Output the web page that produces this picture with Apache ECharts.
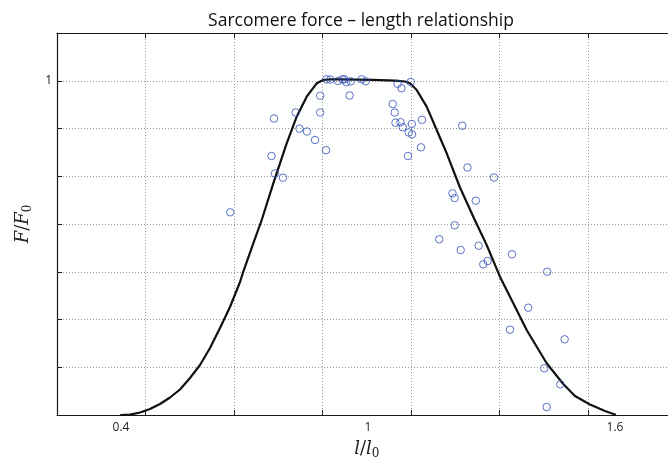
<!DOCTYPE html>
<html>
<head>
<meta charset="utf-8">
<script src="https://cdn.jsdelivr.net/npm/echarts@6/dist/echarts.min.js"></script>
<style>
html,body{margin:0;padding:0;background:#fff;}
#chart{width:668px;height:457px;}
</style>
</head>
<body>
<div id="chart"></div>
<script>
// Title and axis texts
var titleText = 'Sarcomere force \u2013 length relationship';
var xTickLabels = [0.4, 1, 1.6];
var yTickLabels = [1];

// Measured data points (l/l0, F/F0)
var dataX = [0.6655,0.7656,0.7717,0.7741,0.7935,0.8244,0.8336,0.8518,0.8713,0.8839,
             0.8839,0.8980,0.8992,0.9082,0.9271,0.9380,0.9429,0.9473,0.9554,0.9580,
             0.9847,0.9944,1.0600,1.0649,1.0668,1.0721,1.0789,1.0814,1.0845,1.0972,
             1.0989,1.1037,1.1064,1.1069,1.1287,1.1312,1.1732,1.2053,1.2106,1.2106,
             1.2252,1.2291,1.2417,1.2619,1.2689,1.2801,1.2908,1.3061,1.3449,1.3498,
             1.3894,1.4283,1.4341,1.4355,1.4671,1.4778];
var dataY = [0.6064,0.7749,0.8871,0.7225,0.7099,0.9050,0.8566,0.8482,0.8227,0.9553,
             0.9050,0.7922,1.0043,1.0037,0.9993,1.0043,1.0043,0.9957,0.9559,0.9984,
             1.0043,0.9984,0.9304,0.9050,0.8745,0.9909,0.8760,0.9777,0.8610,0.7749,
             0.8452,0.9963,0.8706,0.8398,0.8009,0.8832,0.5257,0.6633,0.6492,0.5675,
             0.4936,0.8655,0.7405,0.6411,0.5065,0.4509,0.4607,0.7105,0.2552,0.4808,
             0.3210,0.1397,0.0239,0.4287,0.0918,0.2265];

// Model curve (l/l0, F/F0)
var curveX = [0.4000,0.4219,0.4462,0.4704,0.4947,0.5190,0.5433,0.5676,0.5919,0.6162,
              0.6405,0.6648,0.6891,0.6971,0.7214,0.7418,0.7700,0.8025,0.8268,0.8511,
              0.8754,0.8914,0.9077,0.9320,1.0129,1.0656,1.0899,1.1020,1.1183,1.1426,
              1.1669,1.1912,1.2235,1.2558,1.2883,1.3206,1.3530,1.3855,1.4341,1.4744,
              1.5028,1.5393,1.5757,1.6000];
var curveY = [0.0000,0.0012,0.0075,0.0180,0.0329,0.0524,0.0763,0.1107,0.1496,0.2005,
              0.2603,0.3231,0.3979,0.4287,0.5137,0.5834,0.6932,0.8129,0.8925,0.9523,
              0.9924,1.0022,1.0043,1.0043,1.0028,1.0001,0.9978,0.9924,0.9723,0.9224,
              0.8527,0.7830,0.6806,0.5933,0.5086,0.4138,0.3342,0.2543,0.1547,0.0928,
              0.0568,0.0314,0.0120,0.0015];

var xMin = 0.2445, xStep = 0.2150, xMax = xMin + 7 * xStep;
var yMin = 0, yStep = 1 / 7, yMax = 8 / 7;

var points = dataX.map(function (x, i) { return [x, dataY[i]]; });
var curve = curveX.map(function (x, i) { return [x, curveY[i]]; });

var axisColor = '#1a1a1a';
var gridStyle = { color: '#9a9a9a', width: 1, type: [1, 2] };
var labelFont = { fontFamily: 'Open Sans', fontSize: 12, color: '#222' };
var nameRich = {
  i: { fontFamily: 'DejaVu Serif', fontStyle: 'italic', fontSize: 18, color: '#222' },
  s: { fontFamily: 'DejaVu Serif', fontSize: 18, color: '#222' },
  sub: { fontFamily: 'DejaVu Serif', fontSize: 12, color: '#222', verticalAlign: 'bottom', padding: [9, 0, 0, 0] }
};

var chart = echarts.init(document.getElementById('chart'), null, { renderer: 'canvas' });
chart.setOption({
  animation: false,
  backgroundColor: '#fff',
  title: {
    text: titleText,
    left: 356, top: 7, textAlign: 'center',
    textStyle: { fontFamily: 'Open Sans', fontSize: 17.5, fontWeight: 'normal', color: '#111' }
  },
  grid: { left: 57, top: 33, width: 619.5, height: 382, containLabel: false, outerBoundsMode: 'none' },
  xAxis: [
    {
      type: 'value', position: 'bottom', min: xMin, max: xMax, interval: xStep,
      axisLine: { show: true, onZero: false, lineStyle: { color: axisColor, width: 1.2 } },
      axisTick: { show: true, inside: true, length: 5, lineStyle: { color: axisColor } },
      axisLabel: { show: false },
      splitLine: { show: true, lineStyle: gridStyle }
    },
    {
      type: 'value', position: 'top', min: xMin, max: xMax, interval: xStep,
      axisLine: { show: true, onZero: false, lineStyle: { color: axisColor, width: 1.2 } },
      axisTick: { show: true, inside: true, length: 5, lineStyle: { color: axisColor } },
      axisLabel: { show: false },
      splitLine: { show: false }
    },
    {
      type: 'value', position: 'bottom', min: xMin, max: xMax,
      axisLine: { show: false, onZero: false },
      axisTick: { show: false },
      splitLine: { show: false },
      axisLabel: Object.assign({ show: true, margin: 7, customValues: xTickLabels,
        formatter: function (v) { return String(v); } }, labelFont),
      name: '{i|l}{s|/}{i|l}{sub|0}',
      nameLocation: 'middle', nameGap: 24,
      nameTextStyle: { rich: nameRich }
    }
  ],
  yAxis: [
    {
      type: 'value', min: yMin, max: yMax, interval: yStep,
      axisLine: { show: true, onZero: false, lineStyle: { color: axisColor, width: 1.2 } },
      axisTick: { show: true, inside: true, length: 5, lineStyle: { color: axisColor } },
      axisLabel: Object.assign({ show: true, margin: 5,
        formatter: function (v) {
          for (var k = 0; k < yTickLabels.length; k++) {
            if (Math.abs(v - yTickLabels[k]) < 1e-6) return String(yTickLabels[k]);
          }
          return '';
        } }, labelFont),
      splitLine: { show: true, lineStyle: gridStyle },
      name: '{i|F}{s|/}{i|F}{sub|0}',
      nameLocation: 'middle', nameGap: 13, nameRotate: 90,
      nameTextStyle: { rich: nameRich }
    }
  ],
  series: [
    {
      type: 'line', xAxisIndex: 0, yAxisIndex: 0,
      data: curve, showSymbol: false, smooth: false,
      lineStyle: { color: '#111', width: 2.2, join: 'round', cap: 'round' }, z: 3
    },
    {
      type: 'scatter', xAxisIndex: 0, yAxisIndex: 0,
      data: points, symbol: 'circle', symbolSize: 7.5,
      itemStyle: { color: 'rgba(255,255,255,0)', borderColor: '#3150b8', borderWidth: 1 }, z: 4
    }
  ]
});
</script>
</body>
</html>
